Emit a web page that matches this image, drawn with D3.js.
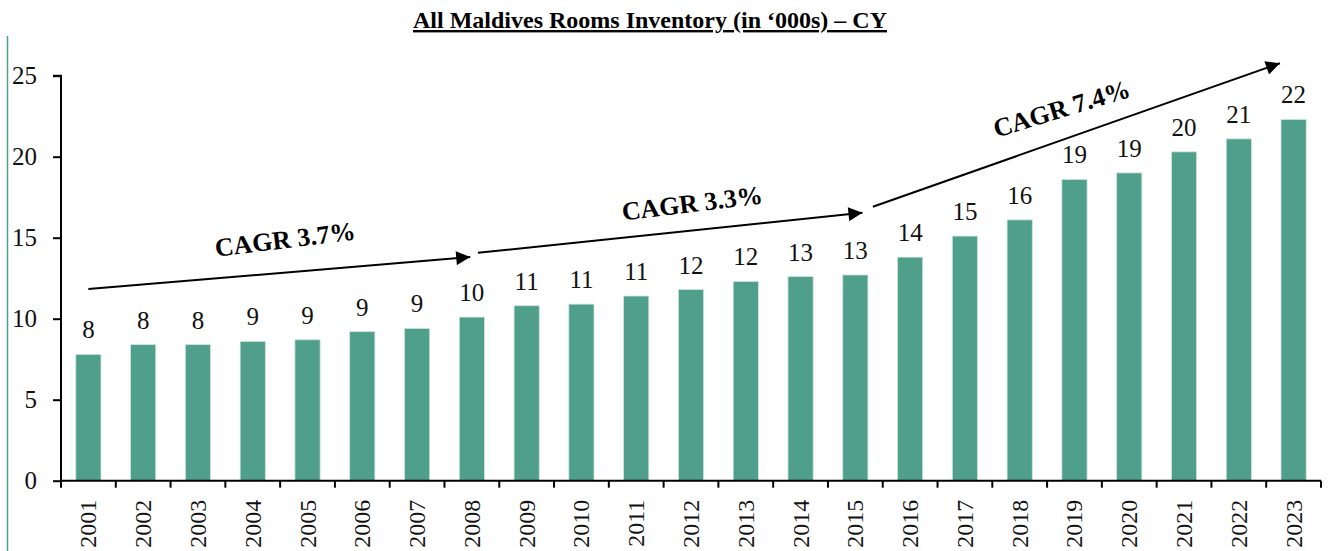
<!DOCTYPE html>
<html>
<head>
<meta charset="utf-8">
<script src="https://cdn.jsdelivr.net/npm/d3@7"></script>
<style>
  html, body { margin: 0; padding: 0; background: #fff; }
  svg { display: block; font-family: "Liberation Serif", "Times New Roman", serif; }
</style>
</head>
<body>
<svg id="chart" width="1342" height="551"></svg>
<script>
// Room inventory by calendar year, in thousands
const years = ["2001","2002","2003","2004","2005","2006","2007","2008","2009","2010","2011","2012",
               "2013","2014","2015","2016","2017","2018","2019","2020","2021","2022","2023"];
const rooms = [7.8, 8.4, 8.4, 8.6, 8.7, 9.2, 9.4, 10.1, 10.8, 10.9, 11.4, 11.8,
               12.3, 12.6, 12.7, 13.8, 15.1, 16.1, 18.6, 19.0, 20.3, 21.1, 22.3];
const yTicks = [0, 5, 10, 15, 20, 25];

// Growth-period annotations: endpoints as [year index, value]
const cagrLabels = ["CAGR 3.7%", "CAGR 3.3%", "CAGR 7.4%"];
const cagrArrows = [
  [[0.0, 11.83], [6.97, 13.81]],
  [[7.11, 14.07], [14.13, 16.54]],
  [[14.32, 16.91], [21.75, 25.77]]
];
const cagrLabelPos = [[3.61, 14.36], [11.04, 16.59], [17.81, 22.45]];
const cagrLabelAngle = [-7, -7, -17];

const svg = d3.select("#chart");
const plotLeft = 61, plotRight = 1321, plotTop = 75.7, plotBottom = 480.7;
const barColor = "#4f9f8b";

const x = d3.scaleBand().domain(years).range([plotLeft, plotRight]).paddingInner(0.54).paddingOuter(0.27);
const xIdx = d3.scaleLinear().domain([-0.5, years.length - 0.5]).range([plotLeft, plotRight]);
const y = d3.scaleLinear().domain([0, 25]).range([plotBottom, plotTop]);

// frame line on the left edge
svg.append("line")
  .attr("x1", 7.5).attr("x2", 7.5).attr("y1", 36).attr("y2", 551)
  .attr("stroke", barColor).attr("stroke-width", 1.5);

// title
svg.append("text")
  .attr("x", 650).attr("y", 28)
  .attr("text-anchor", "middle")
  .attr("font-weight", "bold")
  .attr("font-size", 24)
  .attr("text-decoration", "underline")
  .text("All Maldives Rooms Inventory (in \u2018000s) \u2013 CY");

// bars
svg.append("g").selectAll("rect")
  .data(years)
  .join("rect")
  .attr("x", d => x(d))
  .attr("width", x.bandwidth())
  .attr("y", (d, i) => y(rooms[i]))
  .attr("height", (d, i) => y(0) - y(rooms[i]))
  .attr("fill", barColor)
  .attr("stroke", "#cfe6de")
  .attr("stroke-width", 0.8);

// value labels
svg.append("g").selectAll("text")
  .data(years)
  .join("text")
  .attr("x", d => x(d) + x.bandwidth() / 2)
  .attr("y", (d, i) => y(rooms[i]) - 16)
  .attr("text-anchor", "middle")
  .attr("font-size", 25)
  .attr("fill", "#111")
  .text((d, i) => d3.format(".0f")(rooms[i]));

// y axis
const yAxis = svg.append("g")
  .attr("transform", `translate(${plotLeft},0)`)
  .call(d3.axisLeft(y).tickValues(yTicks).tickSize(8).tickPadding(16).tickFormat(d3.format("d")));
yAxis.select(".domain").attr("stroke", "#000").attr("stroke-width", 2).attr("d", `M-8,${plotTop}H0V${plotBottom}`);
yAxis.selectAll(".tick line").attr("stroke", "#000").attr("stroke-width", 2);
yAxis.selectAll(".tick text").attr("font-size", 25).attr("font-family", "Liberation Serif, serif").attr("fill", "#111");

// x axis: tick marks on category boundaries, labels rotated
const xAxisG = svg.append("g").attr("transform", `translate(0,${plotBottom})`);
xAxisG.append("line")
  .attr("x1", plotLeft).attr("x2", plotRight)
  .attr("stroke", "#000").attr("stroke-width", 2);
xAxisG.selectAll("line.bound")
  .data(d3.range(years.length + 1))
  .join("line")
  .attr("class", "bound")
  .attr("x1", i => xIdx(i - 0.5)).attr("x2", i => xIdx(i - 0.5))
  .attr("y1", 0).attr("y2", 7)
  .attr("stroke", "#000").attr("stroke-width", 2);
xAxisG.selectAll("text")
  .data(years)
  .join("text")
  .attr("transform", d => `translate(${x(d) + x.bandwidth() / 2 + 8},19) rotate(-90)`)
  .attr("text-anchor", "end")
  .attr("font-size", 24)
  .attr("fill", "#111")
  .text(d => d);

// arrow marker
svg.append("defs").append("marker")
  .attr("id", "arrowhead")
  .attr("viewBox", "0 0 10 10")
  .attr("refX", 10).attr("refY", 5)
  .attr("markerWidth", 8).attr("markerHeight", 7)
  .attr("markerUnits", "strokeWidth")
  .attr("orient", "auto")
  .append("path")
  .attr("d", "M0,0L10,5L0,10Z")
  .attr("fill", "#000");

svg.append("g").selectAll("line")
  .data(cagrArrows)
  .join("line")
  .attr("x1", d => xIdx(d[0][0])).attr("y1", d => y(d[0][1]))
  .attr("x2", d => xIdx(d[1][0])).attr("y2", d => y(d[1][1]))
  .attr("stroke", "#000").attr("stroke-width", 2)
  .attr("marker-end", "url(#arrowhead)");

svg.append("g").selectAll("text")
  .data(cagrLabels)
  .join("text")
  .attr("transform", (d, i) => `translate(${xIdx(cagrLabelPos[i][0])},${y(cagrLabelPos[i][1])}) rotate(${cagrLabelAngle[i]})`)
  .attr("text-anchor", "middle")
  .attr("font-weight", "bold")
  .attr("font-size", 26)
  .attr("fill", "#000")
  .text(d => d);
</script>
</body>
</html>
